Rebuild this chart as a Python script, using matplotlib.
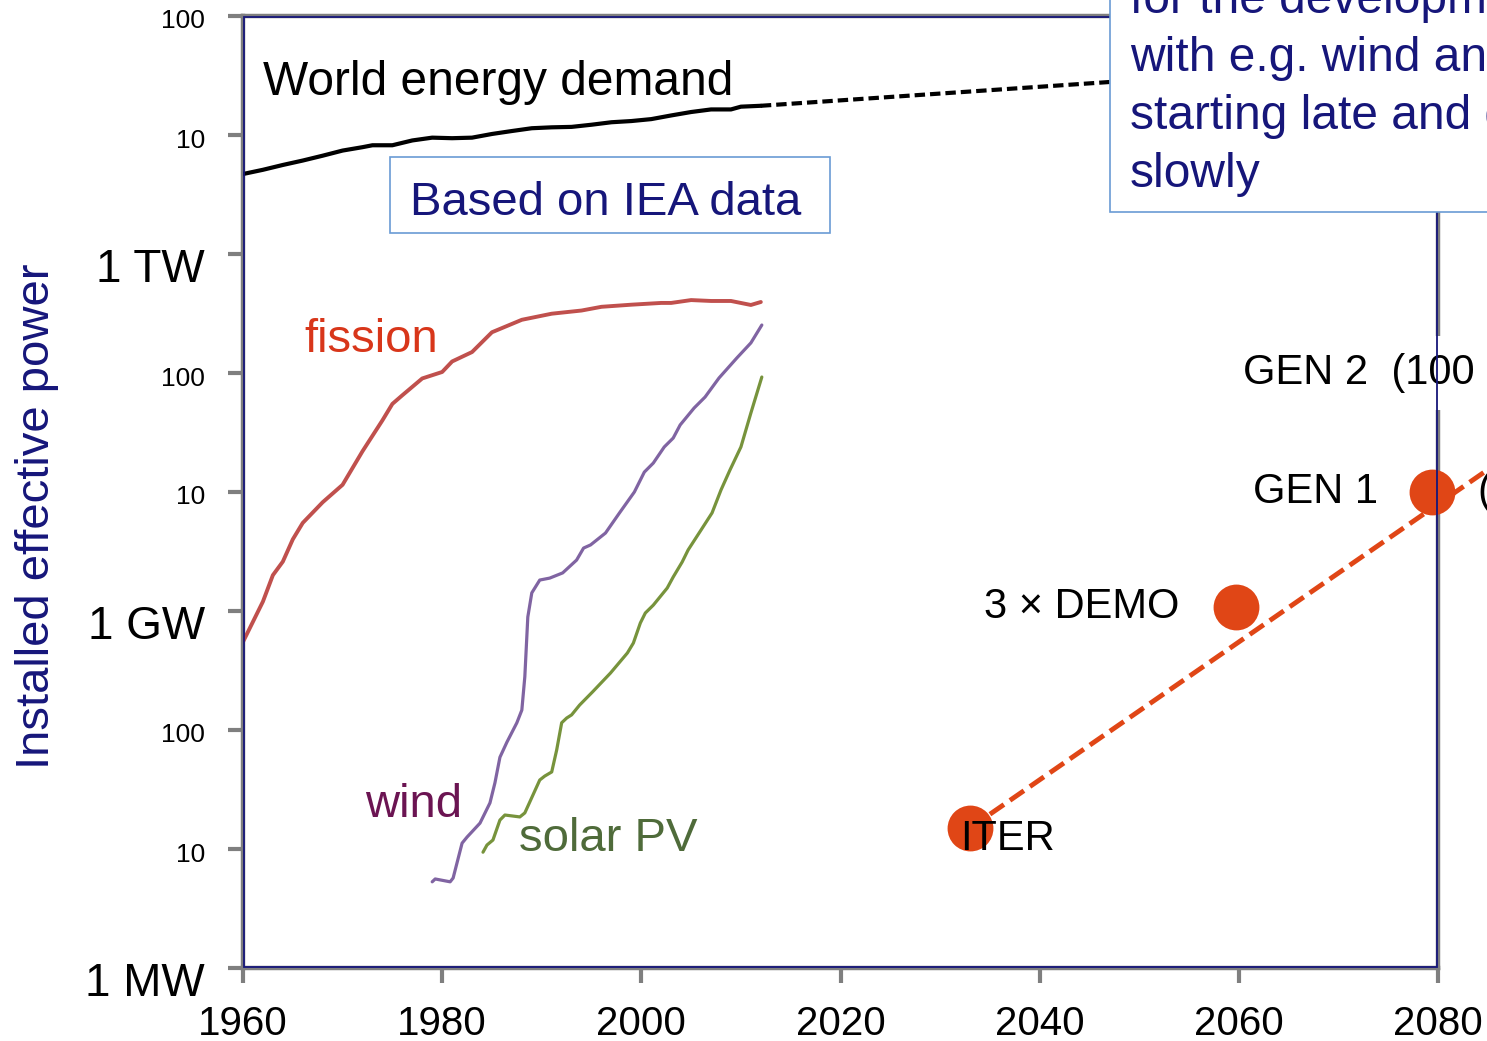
import matplotlib
matplotlib.use("Agg")
import matplotlib.pyplot as plt
import matplotlib.transforms as mtransforms
from matplotlib.patches import Rectangle
from matplotlib.ticker import NullLocator

plt.rcParams["font.family"] = ["Liberation Sans", "DejaVu Sans"]

W, H = 1487, 1041
NAVY = "#16167a"
FRAME_GREY = "#7f7f7f"
BOX_BLUE = "#6a9bd4"

# World primary energy demand (TW), history and projection
demand_years = [1960, 1962, 1964, 1966, 1968, 1970, 1972, 1973, 1975, 1977,
                1979, 1981, 1983, 1985, 1987, 1989, 1991, 1993, 1995, 1997,
                1999, 2001, 2003, 2005, 2007, 2009, 2010, 2012]
demand_tw = [4.7, 5.1, 5.6, 6.1, 6.7, 7.4, 7.9, 8.2, 8.2, 9.0,
             9.5, 9.4, 9.5, 10.2, 10.8, 11.4, 11.6, 11.7, 12.2, 12.8,
             13.1, 13.6, 14.6, 15.6, 16.4, 16.4, 17.3, 17.6]
projection_years = [2012, 2050, 2100]
projection_tw = [17.6, 29.0, 56.0]

# Installed capacity (GW)
fission_years = [1960, 1962, 1963, 1964, 1965, 1966, 1968, 1970, 1972, 1974,
                 1975, 1976, 1978, 1980, 1981, 1983, 1985, 1988, 1991, 1994,
                 1996, 1999, 2002, 2003, 2005, 2007, 2009, 2011, 2012]
fission_gw = [0.55, 1.2, 2.0, 2.6, 4.0, 5.5, 8.2, 11.5, 22, 40,
              55, 65, 90, 102, 125, 150, 220, 280, 315, 335,
              360, 375, 388, 388, 410, 403, 403, 373, 395]

wind_years = [1979.0, 1979.3, 1980.8, 1981.1, 1982.0, 1982.5, 1983.8, 1984.8,
              1985.3, 1985.8, 1986.5, 1987.5, 1988.0, 1988.3, 1988.6, 1989.0,
              1989.8, 1990.8, 1992.1, 1993.5, 1994.2, 1994.9, 1996.4, 1997.8,
              1999.3, 2000.3, 2001.2, 2002.3, 2003.2, 2003.9, 2005.3, 2006.4,
              2007.8, 2009.6, 2011.0, 2012.1]
wind_gw = [0.0053, 0.0056, 0.0053, 0.0057, 0.0112, 0.0126, 0.0165, 0.0244,
           0.036, 0.059, 0.079, 0.115, 0.147, 0.28, 0.89, 1.42,
           1.82, 1.89, 2.09, 2.68, 3.38, 3.59, 4.52, 6.66,
           10.0, 14.7, 17.5, 23.9, 28.4, 36.6, 50.8, 62.8,
           90.8, 134, 179, 253]

solar_years = [1984.1, 1984.5, 1985.1, 1985.8, 1986.3, 1987.8, 1988.3, 1989.8,
               1990.3, 1991.0, 1991.5, 1992.0, 1992.5, 1993.0, 1993.8, 1995.1,
               1996.9, 1998.6, 1999.2, 1999.9, 2000.4, 2001.2, 2002.6, 2003.2,
               2004.1, 2004.7, 2006.0, 2007.1, 2008.0, 2008.9, 2010.0, 2011.0,
               2012.1]
solar_gw = [0.0094, 0.0108, 0.0119, 0.0175, 0.0193, 0.0186, 0.0201, 0.038,
            0.041, 0.0444, 0.068, 0.115, 0.126, 0.134, 0.162, 0.209,
            0.301, 0.444, 0.538, 0.793, 0.962, 1.12, 1.56, 1.93,
            2.58, 3.26, 4.8, 6.67, 10.4, 15.3, 23.9, 46.1,
            92.5]

# Fusion roadmap
fusion_names = ["ITER", "3 \u00d7 DEMO", "GEN 1"]
fusion_years = [2033.0, 2059.7, 2079.4]
fusion_gw = [0.015, 1.08, 10.0]
trend_years = [2033, 2090]
trend_gw = [0.015, 30.0]

tick_years = [1960, 1980, 2000, 2020, 2040, 2060, 2080]
power_ticks = [1e6, 1e7, 1e8, 1e9, 1e10, 1e11, 1e12, 1e13, 1e14]
power_labels = ["1 MW", "10", "100", "1 GW", "10", "100", "1 TW", "10", "100"]

note_text = ("Time scale comparable to that\nfor the development\n"
             "with e.g. wind and solar PV:\nstarting late and growing\nslowly")


def px_rect(x0, y0, x1, y1, **kw):
    """Rectangle given in pixels from the top-left corner of the figure."""
    return Rectangle((x0 / W, 1 - y1 / H), (x1 - x0) / W, (y1 - y0) / H,
                     transform=fig.transFigure, **kw)


fig = plt.figure(figsize=(W / 100, H / 100), dpi=100)
ax = fig.add_axes([243 / W, 1 - 968 / H, (1438 - 243) / W, (968 - 16) / H])
ax.set_yscale("log")
ax.set_xlim(1960, 2080)
ax.set_ylim(1e6, 1e14)

ax.plot(demand_years, [v * 1e12 for v in demand_tw], color="black", lw=3,
        solid_capstyle="round", solid_joinstyle="round", zorder=3)
ax.plot(projection_years, [v * 1e12 for v in projection_tw], color="black",
        lw=3, dashes=(2.5, 1.2), zorder=3)
ax.plot(fission_years, [v * 1e9 for v in fission_gw], color="#c0504d",
        lw=2.8, solid_capstyle="round", solid_joinstyle="round", zorder=3)
ax.plot(wind_years, [v * 1e9 for v in wind_gw], color="#8064a2", lw=2.3,
        solid_capstyle="round", solid_joinstyle="round", zorder=3)
ax.plot(solar_years, [v * 1e9 for v in solar_gw], color="#77933c", lw=2.3,
        solid_capstyle="round", solid_joinstyle="round", zorder=3)

ax.plot(trend_years, [v * 1e9 for v in trend_gw], color="#e04616", lw=3.5,
        dashes=(3.5, 1.5), clip_on=False, zorder=3)
ax.plot(fusion_years, [v * 1e9 for v in fusion_gw], "o", color="#e04616",
        ms=33, mec="none", clip_on=False, zorder=3.5)

ax.text(1962.0, 10 ** 13.336, "World energy demand", fontsize=34.5,
        color="black", va="baseline", zorder=4)
ax.text(1966.2, 10 ** 11.176, "fission", fontsize=34, color="#d8361a",
        va="baseline", zorder=4)
ax.text(1972.25, 10 ** 7.269, "wind", fontsize=34, color="#6b1452",
        va="baseline", zorder=4)
ax.text(1987.7, 10 ** 6.983, "solar PV", fontsize=34, color="#4f6b3a",
        va="baseline", zorder=4)

ax.annotate(fusion_names[0], (fusion_years[0], fusion_gw[0] * 1e9),
            xytext=(-7, -16), textcoords="offset points", fontsize=30,
            va="baseline", ha="left", zorder=4)
ax.annotate(fusion_names[1], (fusion_years[1], fusion_gw[1] * 1e9),
            xytext=(-41, 0), textcoords="offset points", fontsize=30,
            va="center", ha="right", zorder=4)
ax.annotate(fusion_names[2], (fusion_years[2], fusion_gw[2] * 1e9),
            xytext=(-39, 0), textcoords="offset points", fontsize=30,
            va="center", ha="right", zorder=4)
ax.annotate("(10 GW)", (fusion_years[2], fusion_gw[2] * 1e9),
            xytext=(33, 0), textcoords="offset points", fontsize=30,
            va="center", ha="left", annotation_clip=False, zorder=4)
ax.text(2060.4, 1.0e11, "GEN 2  (100 GW)", fontsize=30, va="center",
        ha="left", clip_on=False, zorder=4,
        bbox=dict(boxstyle="square,pad=0.4", fc="white", ec="none"))

# axes frame: grey outer rule with a thin navy line just inside it
for side in ax.spines.values():
    side.set_color(FRAME_GREY)
    side.set_linewidth(3.2)
inset_x, inset_y = 1.2 / 1195, 1.2 / 952
ax.add_patch(Rectangle((inset_x, inset_y), 1 - 2 * inset_x, 1 - 2 * inset_y,
                       transform=ax.transAxes, fill=False, ec=NAVY, lw=1.3,
                       clip_on=False, zorder=6))

ax.set_xticks(tick_years)
ax.set_xticklabels([str(y) for y in tick_years], fontsize=29)
ax.set_yticks(power_ticks)
ax.set_yticklabels(power_labels)
ax.yaxis.set_minor_locator(NullLocator())
ax.tick_params(direction="out", length=10.5, width=3, color=FRAME_GREY)
ax.tick_params(axis="y", pad=17)
ax.tick_params(axis="x", pad=16)
for tick in ax.yaxis.get_major_ticks():
    lab = tick.label1
    big = "W" in lab.get_text()
    lab.set_fontsize(33 if big else 19)
    shift = mtransforms.ScaledTranslation(0, -(11 if big else 3) / 100,
                                          fig.dpi_scale_trans)
    lab.set_transform(lab.get_transform() + shift)

fig.text(37 / W, 1 - 516 / H, "Installed effective power", rotation=90,
         ha="center", va="center", fontsize=34, color=NAVY)

fig.add_artist(px_rect(390, 157, 830, 233, fc="white", ec=BOX_BLUE, lw=1.2,
                       zorder=5))
fig.text(410 / W, 1 - 215 / H, "Based on IEA data", fontsize=34, color=NAVY,
         va="baseline", zorder=6)

fig.add_artist(px_rect(1110, -60, 1700, 212, fc="white", ec=BOX_BLUE, lw=1.2,
                       zorder=5))
fig.text(1130 / W, 1 - 187 / H, note_text, fontsize=34.5, color=NAVY,
         va="baseline", ha="left", linespacing=1.37, zorder=6)

fig.savefig("out.png", dpi=100)
